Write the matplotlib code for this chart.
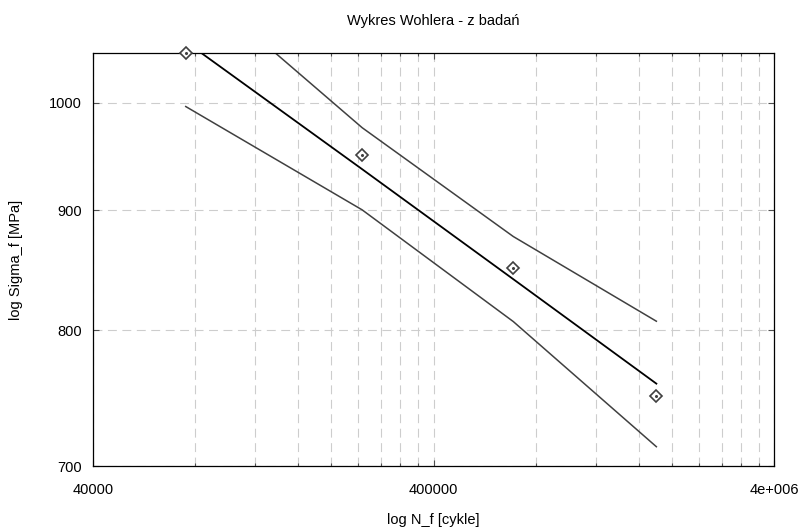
import matplotlib
matplotlib.use("Agg")
import matplotlib.pyplot as plt
import matplotlib.ticker as mticker

plt.rcParams["font.family"] = ["Liberation Sans", "DejaVu Sans"]

# test data (cycles to failure, stress amplitude)
cycles = [75000, 247000, 686000, 1803000]
stress = [1050, 950, 850, 750]

# fitted Basquin line and confidence band, read at the test points
fit_stress = [1062, 937, 841, 759]
upper_stress = [1133, 976, 877, 807]
lower_stress = [996.5, 900.3, 806.7, 713.4]

x_ticks = [40000, 400000, 4000000]
x_tick_labels = ["40000", "400000", "4e+006"]
y_ticks = [700, 800, 900, 1000]
y_tick_labels = ["700", "800", "900", "1000"]

W, H = 803, 531
fig = plt.figure(figsize=(W / 100, H / 100), dpi=100)
ax = fig.add_axes([92.7 / W, 1 - 466 / H, (774.3 - 92.7) / W, (466 - 53.3) / H])

ax.set_xscale("log")
ax.set_yscale("log")
ax.set_xlim(40000, 4000000)
ax.set_ylim(700, 1050)

grid_kw = dict(color="#cdcdcd", linewidth=0.8, dashes=(8, 5))
ax.xaxis.set_major_locator(mticker.FixedLocator(x_ticks))
ax.xaxis.set_major_formatter(mticker.FixedFormatter(x_tick_labels))
ax.xaxis.set_minor_locator(mticker.LogLocator(base=10, subs=[0.4 * k for k in range(2, 10)]))
ax.xaxis.set_minor_formatter(mticker.NullFormatter())
ax.yaxis.set_major_locator(mticker.FixedLocator(y_ticks))
ax.yaxis.set_major_formatter(mticker.FixedFormatter(y_tick_labels))
ax.yaxis.set_minor_locator(mticker.NullLocator())
ax.grid(True, which="both", axis="x", **grid_kw)
ax.grid(True, which="major", axis="y", **grid_kw)
ax.set_axisbelow(True)

ax.plot(cycles, upper_stress, color="#404040", linewidth=1.1)
ax.plot(cycles, lower_stress, color="#404040", linewidth=1.1)
ax.plot(cycles, fit_stress, color="black", linewidth=1.3)
ax.plot(cycles, stress, linestyle="none", marker="D", markersize=6,
        markerfacecolor="white", markeredgecolor="#404040", markeredgewidth=1.2,
        clip_on=False, zorder=5)
ax.plot(cycles, stress, linestyle="none", marker="o", markersize=1.2,
        color="#404040", clip_on=False, zorder=6)

ax.tick_params(which="both", direction="in", top=True, right=True,
               colors="#505050", labelcolor="black", labelsize=10.5)
ax.tick_params(which="major", length=4, width=0.8)
ax.tick_params(which="minor", length=2.5, width=0.8)
ax.tick_params(axis="x", pad=12)
ax.tick_params(axis="y", pad=8)
for s in ax.spines.values():
    s.set_color("black")
    s.set_linewidth(0.9)

cx = (92.7 + 774.3) / 2 / W
fig.text(cx, 1 - 21 / H, "Wykres Wohlera - z badań", ha="center", va="center", fontsize=10.5)
fig.text(cx, 1 - 520 / H, "log N_f [cykle]", ha="center", va="center", fontsize=10.5)
fig.text(16 / W, 1 - 260 / H, "log Sigma_f [MPa]", ha="center", va="center",
         rotation=90, fontsize=10.5)

fig.savefig("out.png", dpi=100)
